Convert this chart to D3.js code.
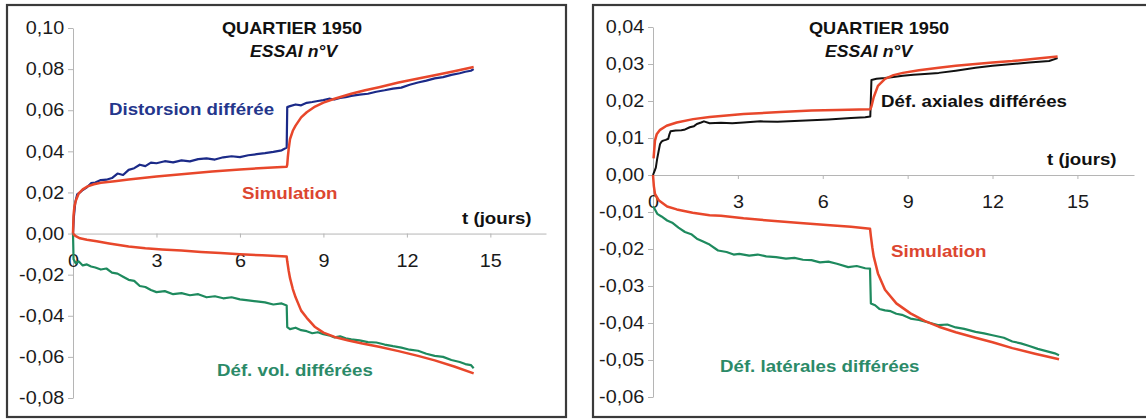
<!DOCTYPE html>
<html><head><meta charset="utf-8">
<script src="https://cdn.jsdelivr.net/npm/d3@7"></script>
<style>
html,body{margin:0;padding:0;background:#fff;}
svg{display:block;font-family:"Liberation Sans",Arial,sans-serif;}
</style></head>
<body>
<svg id="c" width="1146" height="420"></svg>
<script>
// ---------- DATA ----------
const xTicks = [0, 3, 6, 9, 12, 15];
const yTicksLeft = [0.10, 0.08, 0.06, 0.04, 0.02, 0.00, -0.02, -0.04, -0.06, -0.08];
const yTicksRight = [0.04, 0.03, 0.02, 0.01, 0.00, -0.01, -0.02, -0.03, -0.04, -0.05, -0.06];

// Left panel : distorsion (measured, blue)
const distT = [0,0.03,0.08,0.15,0.25,0.35,0.5,0.65,0.8,1.0,1.2,1.4,1.6,1.8,2.0,2.2,2.4,2.6,2.8,3.0,3.3,3.6,3.9,4.2,4.5,4.8,5.1,5.4,5.7,6.0,6.3,6.6,6.9,7.2,7.5,7.68,7.7,7.8,8.0,8.2,8.4,8.6,8.8,9.0,9.2,9.4,9.6,9.8,10.0,10.3,10.6,10.9,11.2,11.5,11.8,12.1,12.4,12.7,13.0,13.3,13.6,13.9,14.1,14.3,14.4];
const distV = [0,0.008,0.015,0.019,0.020,0.0212,0.0225,0.0245,0.0248,0.026,0.0262,0.027,0.0292,0.0285,0.031,0.0318,0.0335,0.0328,0.0345,0.0342,0.0352,0.0346,0.0356,0.0351,0.0362,0.0366,0.036,0.0371,0.0376,0.0372,0.0381,0.0386,0.0391,0.0397,0.0405,0.0418,0.0615,0.062,0.0628,0.0624,0.0636,0.064,0.0645,0.0649,0.0656,0.0652,0.066,0.0664,0.067,0.0676,0.068,0.069,0.0697,0.0705,0.071,0.0724,0.0735,0.0744,0.0755,0.0761,0.0772,0.078,0.0787,0.0792,0.0800];

// Left panel : simulation of distorsion (red)
const simDistT = [0,0.02,0.05,0.1,0.2,0.35,0.5,0.75,1.0,1.5,2.0,2.5,3.0,4.0,5.0,6.0,7.0,7.68,7.7,7.72,7.75,7.8,7.9,8.0,8.2,8.4,8.7,9.0,9.4,10.0,10.5,11.0,11.7,12.5,13.0,13.7,14.4];
const simDistV = [0,0.009,0.013,0.016,0.0194,0.0215,0.0228,0.024,0.0247,0.0255,0.0263,0.027,0.0277,0.029,0.0302,0.0312,0.032,0.0325,0.0335,0.037,0.041,0.046,0.050,0.0525,0.0565,0.059,0.0618,0.0637,0.0656,0.068,0.0697,0.0712,0.0735,0.0757,0.077,0.079,0.081];

// Left panel : volumetric strain (measured, green)
const volT = [0,0.02,0.1,0.2,0.35,0.5,0.65,0.8,1.0,1.2,1.4,1.6,1.8,2.0,2.2,2.4,2.6,2.8,3.0,3.3,3.6,3.9,4.2,4.5,4.8,5.1,5.4,5.7,6.0,6.3,6.6,6.9,7.2,7.5,7.68,7.7,7.8,8.0,8.2,8.4,8.6,8.8,9.0,9.2,9.4,9.6,9.8,10.0,10.3,10.6,10.9,11.2,11.5,11.8,12.1,12.4,12.7,13.0,13.3,13.6,13.9,14.1,14.3,14.4];
const volV = [0,-0.0125,-0.0145,-0.0135,-0.0155,-0.015,-0.016,-0.0165,-0.0175,-0.017,-0.019,-0.0195,-0.021,-0.0225,-0.023,-0.0255,-0.026,-0.0275,-0.0285,-0.028,-0.0295,-0.029,-0.030,-0.0295,-0.031,-0.0305,-0.0315,-0.031,-0.032,-0.0325,-0.033,-0.0335,-0.0345,-0.034,-0.035,-0.0455,-0.0465,-0.0458,-0.047,-0.0475,-0.0485,-0.048,-0.049,-0.0495,-0.0505,-0.050,-0.051,-0.0515,-0.052,-0.0528,-0.053,-0.054,-0.0548,-0.0555,-0.0565,-0.057,-0.0585,-0.0595,-0.060,-0.0615,-0.0625,-0.0635,-0.064,-0.0655];

// Left panel : simulation of volumetric strain (red)
const simVolT = [0,0.1,0.25,0.5,0.85,1.3,2.0,2.6,3.2,3.9,4.6,5.3,6.0,6.8,7.68,7.7,7.75,7.8,7.9,8.0,8.2,8.4,8.7,9.0,9.4,9.9,10.4,11.0,11.7,12.4,13.0,13.7,14.4];
const simVolV = [0,-0.0013,-0.0023,-0.003,-0.0037,-0.0048,-0.0063,-0.0072,-0.0078,-0.0083,-0.009,-0.0095,-0.0101,-0.0106,-0.0112,-0.0135,-0.018,-0.0217,-0.027,-0.031,-0.0375,-0.041,-0.0455,-0.0482,-0.0503,-0.052,-0.0535,-0.0551,-0.0572,-0.0595,-0.0617,-0.0647,-0.068];

// Right panel : axial strain (measured, black)
const axT = [0,0.04,0.1,0.15,0.2,0.25,0.3,0.36,0.45,0.54,0.58,0.62,0.8,1.0,1.1,1.3,1.45,1.55,1.7,1.8,2.0,2.4,2.8,3.2,3.8,4.4,5.0,5.6,6.2,7.0,7.5,7.68,7.72,7.9,8.2,8.5,8.83,9.2,9.6,10.1,10.7,11.4,12.0,12.7,13.3,14.0,14.3];
const axV = [0,0.0008,0.002,0.0045,0.0065,0.0084,0.009,0.0093,0.0095,0.0098,0.011,0.0118,0.012,0.0121,0.0122,0.0129,0.0132,0.0138,0.0142,0.0145,0.014,0.0141,0.014,0.0142,0.0145,0.0144,0.0146,0.0148,0.015,0.0154,0.0156,0.0158,0.0257,0.026,0.0262,0.0265,0.0268,0.0271,0.0273,0.0276,0.0282,0.029,0.0295,0.030,0.0304,0.0308,0.0316];

// Right panel : simulation of axial strain (red)
const simAxT = [0.02,0.07,0.13,0.25,0.48,0.84,1.42,2.0,3.2,4.5,5.6,6.5,7.68,7.72,7.8,7.95,8.2,8.5,8.83,9.4,10.1,10.7,11.4,12.0,12.7,13.5,14.3];
const simAxV = [0.0045,0.0093,0.011,0.0122,0.0133,0.0142,0.0151,0.0157,0.0165,0.017,0.0174,0.0176,0.0178,0.0185,0.021,0.0241,0.026,0.027,0.0276,0.0283,0.029,0.0295,0.030,0.0304,0.0308,0.0314,0.032];

// Right panel : lateral strain (measured, green)
const latT = [0,0.04,0.15,0.3,0.5,0.7,0.9,1.13,1.35,1.55,1.77,2.0,2.3,2.6,2.85,3.05,3.4,3.7,4.0,4.35,4.7,5.0,5.3,5.6,5.9,6.2,6.5,6.9,7.2,7.5,7.67,7.7,7.85,8.0,8.2,8.4,8.6,8.8,9.1,9.4,9.7,10.1,10.4,10.7,11.0,11.4,11.7,12.0,12.4,12.7,13.0,13.3,13.6,14.0,14.2,14.35];
const latV = [-0.0085,-0.0089,-0.0105,-0.0112,-0.0123,-0.013,-0.0142,-0.0154,-0.016,-0.0172,-0.018,-0.0188,-0.0204,-0.0208,-0.0215,-0.0213,-0.0218,-0.0215,-0.022,-0.0222,-0.0226,-0.0224,-0.0229,-0.023,-0.0236,-0.0234,-0.024,-0.0249,-0.0246,-0.0252,-0.0253,-0.0347,-0.0352,-0.0362,-0.0366,-0.0368,-0.0375,-0.0378,-0.0388,-0.0392,-0.0398,-0.0406,-0.0404,-0.0412,-0.0416,-0.0424,-0.0428,-0.0433,-0.044,-0.045,-0.0455,-0.0462,-0.047,-0.0478,-0.0482,-0.0487];

// Right panel : simulation of lateral strain (red)
const simLatT = [0,0.03,0.07,0.2,0.5,0.84,1.4,2.0,2.4,3.2,3.8,4.3,5.2,6.26,7.0,7.67,7.7,7.75,7.8,7.95,8.2,8.6,9.1,9.6,10.1,10.7,11.4,12.0,12.7,13.5,14.35];
const simLatV = [0,-0.003,-0.0051,-0.0068,-0.0085,-0.0093,-0.0102,-0.0109,-0.011,-0.0117,-0.0121,-0.0124,-0.013,-0.0136,-0.014,-0.0145,-0.0165,-0.0195,-0.022,-0.0266,-0.031,-0.0347,-0.0374,-0.0394,-0.041,-0.0425,-0.044,-0.0452,-0.0468,-0.0483,-0.0498];

// ---------- DRAWING ----------
const svg = d3.select("#c");
const SX = 1.1;
const fmt = v => (v < 0 ? "-" : "") + Math.abs(v).toFixed(2).replace(".", ",");

function label(g, x, y, txt, opt) {
  g.append("text")
    .attr("transform", `translate(${x},${y}) scale(${SX},1)`)
    .attr("font-size", opt.size || 17)
    .attr("font-weight", opt.weight || "bold")
    .attr("font-style", opt.style || "normal")
    .attr("fill", opt.fill || "#111")
    .attr("text-anchor", opt.anchor || "start")
    .text(txt);
}

function panel(cfg) {
  const g = svg.append("g");
  g.append("rect").attr("x", cfg.frame[0]).attr("y", cfg.frame[1])
    .attr("width", cfg.frame[2]).attr("height", cfg.frame[3])
    .attr("fill", "#fff").attr("stroke", "#3a3a3a").attr("stroke-width", 2.2);

  const x = d3.scaleLinear().domain([0, 17]).range(cfg.xr);
  const y = d3.scaleLinear().domain(cfg.yd).range(cfg.yr);

  // y axis
  const ya = g.append("g").attr("transform", `translate(${cfg.xr[0]},0)`)
    .call(d3.axisLeft(y).tickValues(cfg.yTicks).tickFormat(fmt).tickSize(5).tickSizeOuter(0).tickPadding(3));
  ya.select(".domain").attr("stroke", "#b5b5b5");
  ya.selectAll(".tick line").attr("stroke", "#b5b5b5");
  ya.selectAll(".tick text").attr("font-size", 18).attr("fill", "#1a1a1a")
    .attr("font-family", "'Liberation Sans',Arial,sans-serif")
    .attr("transform", `scale(${SX},1)`);

  // x axis
  const xa = g.append("g").attr("transform", `translate(0,${y(0)})`)
    .call(d3.axisBottom(x).tickValues(xTicks).tickFormat(d3.format("d")).tickSize(4).tickSizeOuter(0));
  xa.select(".domain").attr("stroke", "#b5b5b5");
  xa.selectAll(".tick line").attr("stroke", "#b5b5b5");
  xa.selectAll(".tick text").attr("font-size", 18).attr("fill", "#1a1a1a")
    .attr("font-family", "'Liberation Sans',Arial,sans-serif")
    .attr("y", 33).attr("dy", 0)
    .attr("transform", `scale(${SX},1)`);

  const line = d3.line().x(d => x(d[0])).y(d => y(d[1]));
  cfg.series.forEach(s => {
    g.append("path").datum(d3.zip(s.t, s.v)).attr("d", line)
      .attr("fill", "none").attr("stroke", s.color).attr("stroke-width", s.w)
      .attr("stroke-linejoin", "round");
  });

  cfg.texts.forEach(t => label(g, t[0], t[1], t[2], t[3]));
}

const BLUE = "#1b2a88", RED = "#e8472b", GREEN = "#1e8a5e", BLACK = "#111";

panel({
  frame: [7, 5, 559, 412],
  xr: [73, 546], yr: [398, 28], yd: [-0.08, 0.10], yTicks: yTicksLeft,
  series: [
    {t: distT, v: distV, color: BLUE, w: 2.2},
    {t: volT, v: volV, color: GREEN, w: 2.2},
    {t: simDistT, v: simDistV, color: RED, w: 2.5},
    {t: simVolT, v: simVolV, color: RED, w: 2.5}
  ],
  texts: [
    [222, 34, "QUARTIER 1950", {size: 16.5}],
    [250, 57, "ESSAI n°V", {size: 16, style: "italic"}],
    [109, 115, "Distorsion différée", {fill: "#24368c"}],
    [242, 199, "Simulation", {fill: "#dc4630"}],
    [217, 376, "Déf. vol. différées", {fill: "#2b8a68"}],
    [462, 224, "t (jours)", {}]
  ]
});

panel({
  frame: [593, 5, 560, 412],
  xr: [653, 1134], yr: [397, 27], yd: [-0.06, 0.04], yTicks: yTicksRight,
  series: [
    {t: axT, v: axV, color: BLACK, w: 2},
    {t: latT, v: latV, color: GREEN, w: 2.2},
    {t: simAxT, v: simAxV, color: RED, w: 2.5},
    {t: simLatT, v: simLatV, color: RED, w: 2.5}
  ],
  texts: [
    [809, 34, "QUARTIER 1950", {size: 16.5}],
    [825, 57, "ESSAI n°V", {size: 16, style: "italic"}],
    [881, 107, "Déf. axiales différées", {}],
    [1047, 165, "t (jours)", {}],
    [891, 257, "Simulation", {fill: "#dc4630"}],
    [720, 372, "Déf. latérales différées", {fill: "#2b8a68"}]
  ]
});
</script>
</body></html>
